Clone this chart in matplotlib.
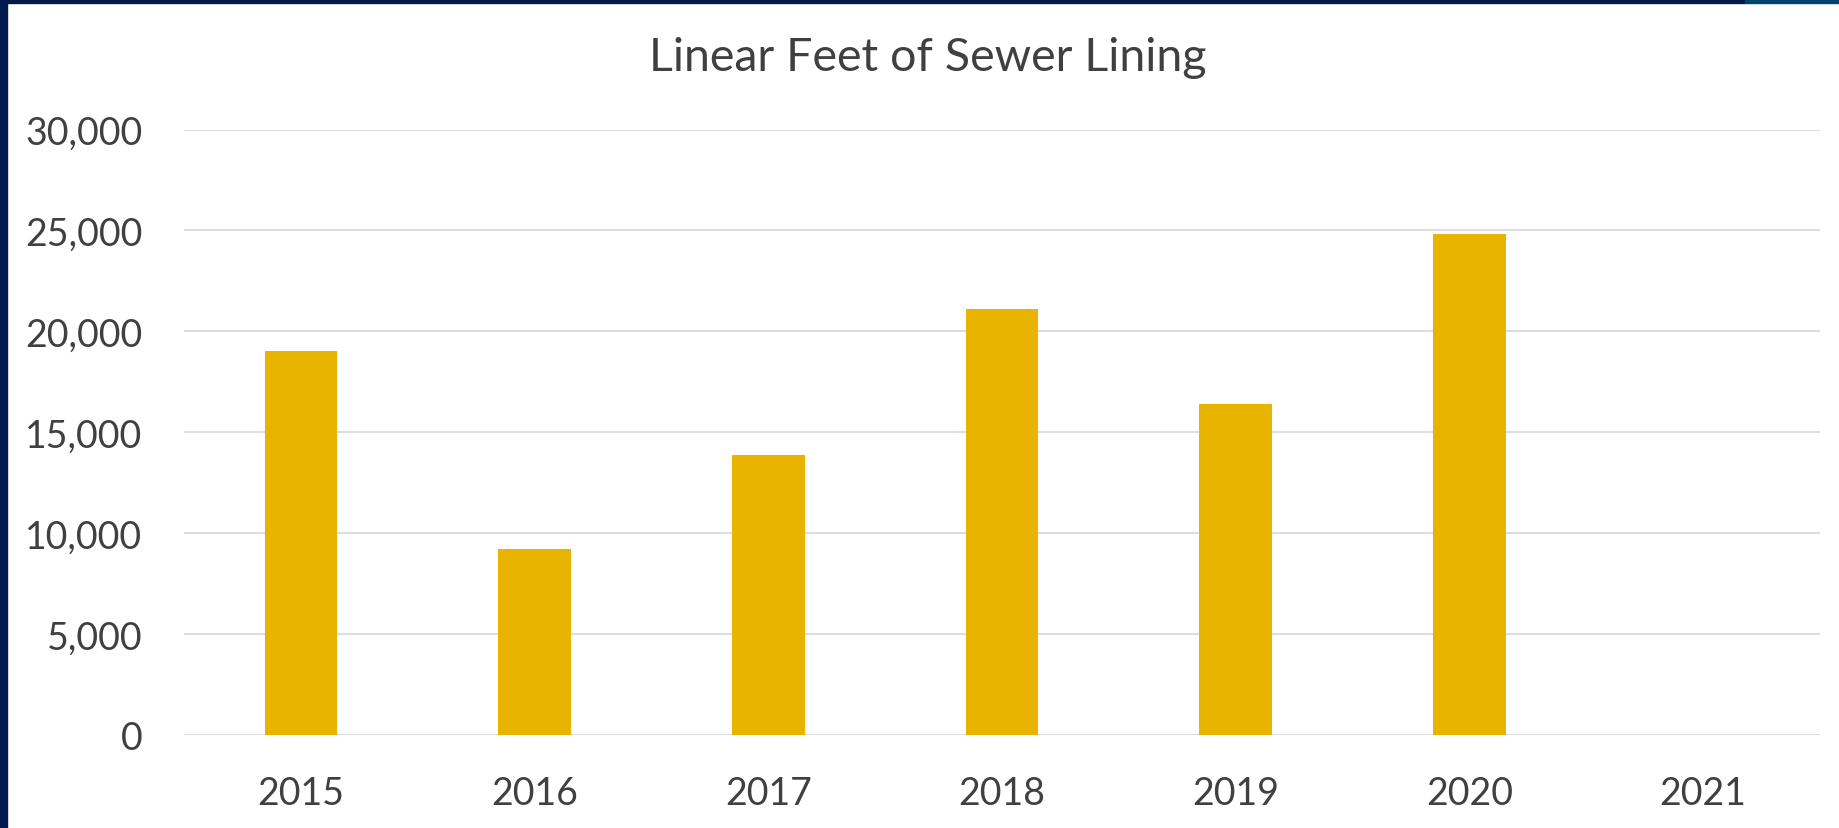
import matplotlib
matplotlib.use("Agg")
import matplotlib.pyplot as plt
from matplotlib.ticker import FuncFormatter, MultipleLocator
from matplotlib.patches import Rectangle
import numpy as np

years = ["2015", "2016", "2017", "2018", "2019", "2020", "2021"]
linear_feet = [19050, 9200, 13850, 21100, 16400, 24800, 0]
title = "Linear Feet of Sewer Lining"

bar_color = "#E8B400"
text_color = "#404040"
grid_color = "#DEDEDE"
navy = "#001A4E"

plt.rcParams["font.family"] = ["Lato", "DejaVu Sans"]

W, H = 1839, 829
fig = plt.figure(figsize=(W / 100, H / 100), dpi=100)
fig.patch.set_facecolor("white")

ax = fig.add_axes([184 / W, 1 - 736 / H, (1820 - 184) / W, (736 - 130.5) / H])
x = np.arange(len(years))
ax.bar(x, linear_feet, width=0.31, color=bar_color, zorder=3)

ax.set_xlim(-0.5, len(years) - 0.5)
ax.set_ylim(0, 30000)
ax.yaxis.set_major_locator(MultipleLocator(5000))
ax.yaxis.set_major_formatter(FuncFormatter(lambda v, p: f"{int(v):,}"))
ax.set_xticks(x)
ax.set_xticklabels(years)
ax.grid(axis="y", color=grid_color, linewidth=1.5, zorder=0)
ax.set_axisbelow(True)
for s in ax.spines.values():
    s.set_visible(False)
ax.tick_params(axis="both", length=0, labelsize=27, colors=text_color)
ax.tick_params(axis="y", pad=30)
ax.tick_params(axis="x", pad=29)

fig.text(928 / W, 1 - 58 / H, title, ha="center", va="center",
         fontsize=33.5, color=text_color)

# decorative borders
fig.patches.append(Rectangle((0, 0), 7 / W, 1, transform=fig.transFigure,
                             color=navy, zorder=10))
fig.patches.append(Rectangle((0, 1 - 4 / H), 1745 / W, 4 / H, transform=fig.transFigure,
                             color=navy, zorder=10))
fig.patches.append(Rectangle((1745 / W, 1 - 4 / H), 1 - 1745 / W, 4 / H,
                             transform=fig.transFigure, color="#00436A", zorder=10))

fig.savefig("out.png", dpi=100, facecolor="white")
